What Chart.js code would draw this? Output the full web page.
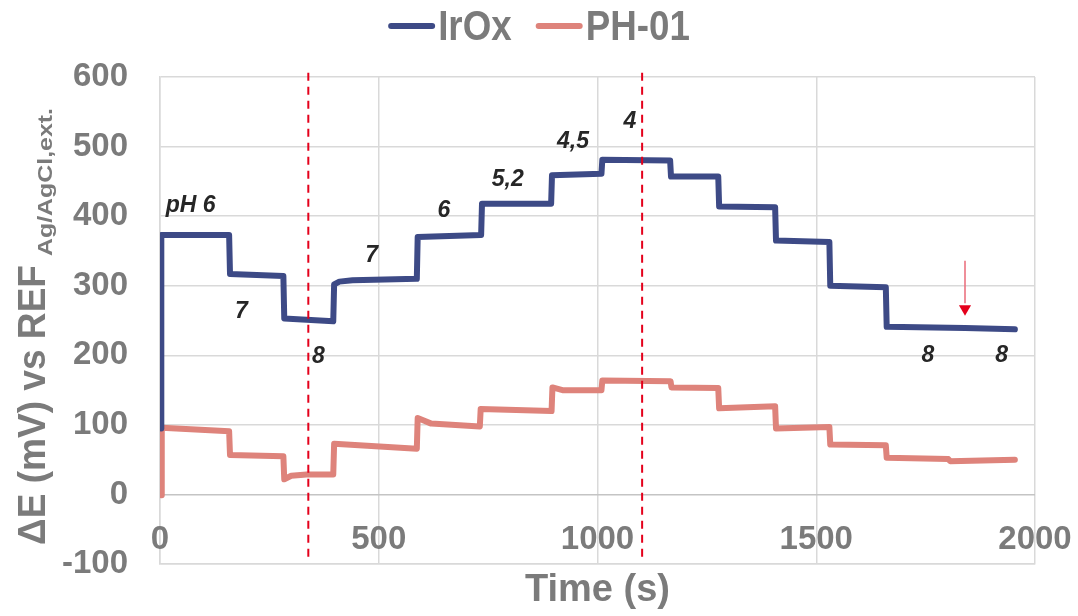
<!DOCTYPE html>
<html><head><meta charset="utf-8">
<script src="https://cdn.jsdelivr.net/npm/chart.js@4.4.1/dist/chart.umd.min.js"></script>
<style>html,body{margin:0;padding:0;background:#fff;overflow:hidden;}#wrap{width:1078px;height:616px;}</style>
</head><body><div id="wrap"><canvas id="c" width="1078" height="616"></canvas></div>
<script>
// ---- data ----
const seriesNames = ['IrOx', 'PH-01'];
const irTimes  = [3, 3, 158, 160, 282, 284, 396, 398, 410, 440, 587, 589, 734, 736, 894, 896, 1009, 1011, 1166, 1168, 1276, 1278, 1406, 1408, 1530, 1532, 1659, 1661, 1840, 1954];
const irValues = [95, 373, 373, 317, 314, 253, 249, 302, 306, 308, 310, 370, 373, 418, 418, 459, 461, 481, 480, 457, 457, 414, 413, 365, 363, 300, 298, 241, 239.5, 237.5];
const phTimes  = [4, 4, 158, 160, 282, 284, 300, 335, 396, 398, 587, 589, 620, 731, 733, 895, 897, 920, 1009, 1011, 1167, 1169, 1276, 1278, 1406, 1408, 1530, 1532, 1659, 1661, 1802, 1806, 1954];
const phValues = [-1, 96, 91, 57, 55, 22, 27, 29, 29, 73, 66, 110, 102, 98, 123, 120, 154, 150, 150, 164, 163, 154, 153, 124, 127, 95, 97, 72, 71, 53, 51, 48, 50];
const markerTimes = [339, 1102];
const markerRange = [606, -90];
const arrowTime = 1840;
const arrowRange = [336, 275];
const arrowHeadValue = 267;
const noteTexts  = ['pH 6', '7', '8', '7', '6', '5,2', '4,5', '4', '8', '8'];
const noteTimes  = [70, 186, 362, 484, 649, 795, 944, 1074, 1755, 1924];
const noteValues = [415, 263, 198, 343, 408, 453, 507, 536, 200, 200];
const xTickValues = [0, 500, 1000, 1500, 2000];
const yTickValues = [-100, 0, 100, 200, 300, 400, 500, 600];
const xTitle = 'Time (s)';
const yTitleMain = '\u0394E (mV) vs REF';
const yTitleSub = 'Ag/AgCl,ext.';

// ---- styles ----
const FONT = '"Liberation Sans", Arial, Helvetica, sans-serif';
const GRAY = '#7b7b7b';
const BLUE = '#3d4a86';
const SALMON = '#de837b';
const RED = '#e4001b';

const toXY = (ts, vs) => ts.map((t, i) => ({x: t, y: vs[i]}));

const datasets = [
  {label: seriesNames[0], data: toXY(irTimes, irValues), borderColor: BLUE, backgroundColor: BLUE, borderWidth: 6, pointRadius: 0, tension: 0, borderJoinStyle: 'round', borderCapStyle: 'round', order: 2},
  {label: seriesNames[1], data: toXY(phTimes, phValues), borderColor: SALMON, backgroundColor: SALMON, borderWidth: 6, pointRadius: 0, tension: 0, borderJoinStyle: 'round', borderCapStyle: 'round', order: 3},
];
markerTimes.forEach(t => datasets.push({label: '_marker', data: markerRange.map(v => ({x: t, y: v})), borderColor: RED, borderWidth: 2, borderDash: [8, 6], pointRadius: 0, clip: false, order: 1}));
datasets.push({label: '_arrow', data: arrowRange.map(v => ({x: arrowTime, y: v})), borderColor: '#ea6a78', borderWidth: 1.5, pointRadius: 0, order: 1});
datasets.push({label: '_arrowhead', data: [{x: arrowTime, y: arrowHeadValue}], showLine: false, pointStyle: 'triangle', rotation: 180, pointRadius: 7, pointBackgroundColor: RED, pointBorderColor: RED, pointBorderWidth: 0, order: 1});

const xLabelsPlugin = {
  id: 'xLabels',
  beforeDatasetsDraw(chart) {
    const {ctx, scales: {x, y}} = chart;
    ctx.save();
    ctx.font = 'bold 33px ' + FONT;
    ctx.fillStyle = GRAY;
    ctx.textAlign = 'center';
    ctx.textBaseline = 'alphabetic';
    const by = y.getPixelForValue(0) + 54;
    xTickValues.forEach(v => ctx.fillText(String(v), x.getPixelForValue(v), by));
    ctx.restore();
  }
};

const notesPlugin = {
  id: 'notes',
  afterDatasetsDraw(chart) {
    const {ctx, scales: {x, y}} = chart;
    ctx.save();
    ctx.font = 'italic bold 23px ' + FONT;
    ctx.fillStyle = '#262626';
    ctx.textAlign = 'center';
    ctx.textBaseline = 'middle';
    noteTexts.forEach((s, i) => ctx.fillText(s, x.getPixelForValue(noteTimes[i]), y.getPixelForValue(noteValues[i])));
    ctx.restore();
  }
};

const legendPlugin = {
  id: 'customLegend',
  afterDraw(chart) {
    const {ctx} = chart;
    const sx = 0.875, lineLen = 47, gapTxt = 3, gapItem = 24, cy = 26;
    ctx.save();
    ctx.font = 'bold 42px ' + FONT;
    const items = chart.data.datasets.slice(0, 2).map(d => ({label: d.label, color: d.borderColor, w: ctx.measureText(d.label).width * sx}));
    const total = items.reduce((a, it) => a + lineLen + gapTxt + it.w, 0) + gapItem * (items.length - 1);
    let x = chart.width / 2 - total / 2;
    items.forEach(it => {
      ctx.strokeStyle = it.color; ctx.lineWidth = 6; ctx.lineCap = 'round';
      ctx.beginPath(); ctx.moveTo(x + 3, cy); ctx.lineTo(x + lineLen - 3, cy); ctx.stroke();
      x += lineLen + gapTxt;
      ctx.save();
      ctx.translate(x, cy + 14);
      ctx.scale(sx, 1);
      ctx.fillStyle = GRAY; ctx.textBaseline = 'alphabetic'; ctx.textAlign = 'left';
      ctx.fillText(it.label, 0, 0);
      ctx.restore();
      x += it.w + gapItem;
    });
    ctx.restore();
  }
};

const yTitlePlugin = {
  id: 'yTitle',
  afterDraw(chart) {
    const {ctx} = chart;
    ctx.save();
    ctx.translate(45, 545);
    ctx.rotate(-Math.PI / 2);
    ctx.fillStyle = GRAY;
    ctx.textBaseline = 'alphabetic';
    ctx.textAlign = 'left';
    ctx.font = 'bold 39px ' + FONT;
    const mw = ctx.measureText(yTitleMain).width;
    const targetMain = 280;
    ctx.save(); ctx.scale(targetMain / mw, 1); ctx.fillText(yTitleMain, 0, 0); ctx.restore();
    ctx.font = 'bold 20px ' + FONT;
    const sw = ctx.measureText(yTitleSub).width;
    const targetSub = 148;
    ctx.save(); ctx.translate(targetMain + 9, 7); ctx.scale(targetSub / sw, 1); ctx.fillText(yTitleSub, 0, 0); ctx.restore();
    ctx.restore();
  }
};

new Chart(document.getElementById('c'), {
  type: 'line',
  data: {datasets},
  options: {
    responsive: false,
    animation: false,
    devicePixelRatio: 1,
    layout: {padding: {top: 77, right: 43, left: 0, bottom: 0}},
    plugins: {legend: {display: false}, tooltip: {enabled: false}},
    scales: {
      x: {
        type: 'linear', min: 0, max: 2000,
        afterBuildTicks: s => { s.ticks = xTickValues.map(v => ({value: v})); },
        afterFit: s => { s.height = 49; },
        grid: {color: '#d9d9d9', lineWidth: 1.5, drawTicks: false},
        border: {color: '#d9d9d9', width: 1.5},
        ticks: {display: false},
        title: {display: true, text: xTitle, color: GRAY, font: {family: FONT, size: 38, weight: 'bold'}, padding: {top: 0, bottom: 0}}
      },
      y: {
        type: 'linear', min: -100, max: 600,
        afterBuildTicks: s => { s.ticks = yTickValues.map(v => ({value: v})); },
        afterFit: s => { s.width = 160; },
        grid: {color: ctx => ctx.tick && ctx.tick.value === 0 ? '#c4c4c4' : '#d9d9d9', lineWidth: 1.5, drawTicks: false},
        border: {color: '#d9d9d9', width: 1.5},
        ticks: {padding: 32, color: GRAY, font: {family: FONT, size: 33, weight: 'bold'}}
      }
    }
  },
  plugins: [xLabelsPlugin, notesPlugin, legendPlugin, yTitlePlugin]
});
</script>
</body></html>
